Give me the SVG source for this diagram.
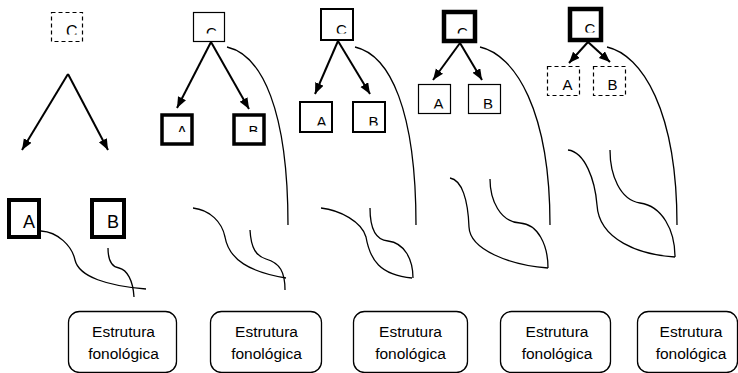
<svg xmlns="http://www.w3.org/2000/svg" width="738" height="373" viewBox="0 0 738 373">
<style>
.bx{fill:#fff;stroke:#000}
.thin{stroke-width:1.2}
.med{stroke-width:2}
.thick{stroke-width:4}
.dash{stroke-width:1.2;stroke-dasharray:4 3}
.lbl{font-family:"Liberation Sans",Arial,sans-serif;font-size:15px;fill:#000}
.big{font-size:18px}
.cv{fill:none;stroke:#000;stroke-width:1.3}
.ar{fill:none;stroke:#000;stroke-width:2}
.fs{fill:#fff;stroke:#000;stroke-width:1.3}
.ft{font-family:"Liberation Sans",Arial,sans-serif;font-size:15.5px;fill:#000;text-anchor:middle}
</style>
<defs>
<marker id="ah" markerUnits="userSpaceOnUse" markerWidth="12" markerHeight="10" refX="11" refY="4.5" orient="auto">
<path d="M0,0 L11,4.5 L0,9 z" fill="#000"/>
</marker>
<clipPath id="k1c"><rect x="50" y="10" width="35" height="24.5"/></clipPath>
<clipPath id="k2c"><rect x="193" y="10" width="35" height="23.5"/></clipPath>
<clipPath id="k2a"><rect x="160" y="110" width="110" height="22"/></clipPath>
<clipPath id="k3c"><rect x="320" y="5" width="35" height="28.5"/></clipPath>
<clipPath id="k3a"><rect x="299" y="100" width="90" height="25.5"/></clipPath>
<clipPath id="k4c"><rect x="442" y="8" width="35" height="25.5"/></clipPath>
<clipPath id="k4a"><rect x="418" y="84" width="90" height="24.5"/></clipPath>
<clipPath id="k5c"><rect x="568" y="5" width="35" height="27.5"/></clipPath>
<clipPath id="k5a"><rect x="547" y="66" width="90" height="24"/></clipPath>
</defs>

<g id="p1-C"><rect class="bx dash" x="51.5" y="12.5" width="31" height="29"/><text class="lbl" x="66" y="36.5" style="font-size:16px" clip-path="url(#k1c)">C</text></g>
<g id="p1-A"><rect class="bx thick" x="9" y="200" width="30" height="37"/><text class="lbl big" x="23" y="228">A</text></g>
<g id="p1-B"><rect class="bx thick" x="92" y="200" width="32" height="37"/><text class="lbl big" x="107" y="228">B</text></g>

<g id="p2-C"><rect class="bx thin" x="193.5" y="12.5" width="31" height="29"/><text class="lbl" x="206" y="38" clip-path="url(#k2c)">C</text></g>
<g id="p2-A"><rect class="bx thick" x="162" y="115" width="30" height="29" style="stroke-width:3.5"/><text class="lbl" x="177" y="135.5" clip-path="url(#k2a)">A</text></g>
<g id="p2-B"><rect class="bx thick" x="234" y="115" width="30" height="29" style="stroke-width:3.5"/><text class="lbl" x="248.5" y="135.5" clip-path="url(#k2a)">B</text></g>

<g id="p3-C"><rect class="bx med" x="321" y="9" width="32" height="31"/><text class="lbl" x="336" y="35" clip-path="url(#k3c)">C</text></g>
<g id="p3-A"><rect class="bx med" x="300" y="102" width="32" height="30"/><text class="lbl" x="316.5" y="127" clip-path="url(#k3a)">A</text></g>
<g id="p3-B"><rect class="bx med" x="353" y="102" width="32" height="30"/><text class="lbl" x="368.5" y="127" clip-path="url(#k3a)">B</text></g>

<g id="p4-C"><rect class="bx" x="444" y="12" width="31" height="29" style="stroke-width:4.5"/><text class="lbl" x="457" y="38" clip-path="url(#k4c)">C</text></g>
<g id="p4-A"><rect class="bx thin" x="418.5" y="84.5" width="32" height="29"/><text class="lbl" x="433.5" y="109" clip-path="url(#k4a)">A</text></g>
<g id="p4-B"><rect class="bx thin" x="468.5" y="84.5" width="32" height="29"/><text class="lbl" x="483" y="109" clip-path="url(#k4a)">B</text></g>

<g id="p5-C"><rect class="bx" x="570" y="9" width="31" height="31" style="stroke-width:4.5"/><text class="lbl" x="584.5" y="34" clip-path="url(#k5c)">C</text></g>
<g id="p5-A"><rect class="bx dash" x="547.5" y="66.5" width="32" height="29"/><text class="lbl" x="562.5" y="90" clip-path="url(#k5a)">A</text></g>
<g id="p5-B"><rect class="bx dash" x="593.5" y="66.5" width="32" height="29"/><text class="lbl" x="607.5" y="90" clip-path="url(#k5a)">B</text></g>

<g id="fon1"><rect class="fs" x="68.5" y="311.5" width="108" height="61" rx="11"/><text class="ft" x="123.5" y="337">Estrutura</text><text class="ft" x="123.5" y="359">fonológica</text></g>
<g id="fon2"><rect class="fs" x="210.5" y="311.5" width="111" height="61" rx="11"/><text class="ft" x="266.5" y="337">Estrutura</text><text class="ft" x="266.5" y="359">fonológica</text></g>
<g id="fon3"><rect class="fs" x="353.5" y="311.5" width="114" height="61" rx="11"/><text class="ft" x="410.5" y="337">Estrutura</text><text class="ft" x="410.5" y="359">fonológica</text></g>
<g id="fon4"><rect class="fs" x="500.5" y="311.5" width="110" height="61" rx="11"/><text class="ft" x="557" y="337">Estrutura</text><text class="ft" x="557" y="359">fonológica</text></g>
<g id="fon5"><rect class="fs" x="637.5" y="311.5" width="100" height="61" rx="11"/><text class="ft" x="691" y="337">Estrutura</text><text class="ft" x="691" y="359">fonológica</text></g>

<g id="connectors">
<path class="ar" d="M68,74 L22,150" marker-end="url(#ah)"/>
<path class="ar" d="M68,74 L108,150" marker-end="url(#ah)"/>
<path class="ar" d="M211,42 L177,108" marker-end="url(#ah)"/>
<path class="ar" d="M211,42 L249,109" marker-end="url(#ah)"/>
<path class="ar" d="M338,41 L315,94" marker-end="url(#ah)"/>
<path class="ar" d="M338,41 L370,94" marker-end="url(#ah)"/>
<path class="ar" d="M460,43 L433,80" marker-end="url(#ah)"/>
<path class="ar" d="M460,43 L482,80" marker-end="url(#ah)"/>
<path class="ar" d="M588,42 L569,63" marker-end="url(#ah)"/>
<path class="ar" d="M588,42 L610,62" marker-end="url(#ah)"/>

<path class="cv" d="M41,231 C58,232 72,246 75,260 C79,277 108,286 146,289"/>
<path class="cv" d="M108,248 C108,260 112,267 119,268 C127,270 133,280 134,297"/>

<path class="cv" d="M227,47 C262,55 288,110 288,225"/>
<path class="cv" d="M193,208 C210,210 222,222 225,237 C229,260 250,272 286,278"/>
<path class="cv" d="M250,230 C251,248 256,256 266,259 C280,263 285,272 285,290"/>

<path class="cv" d="M355,47 C390,55 416,110 416,225"/>
<path class="cv" d="M321,208 C340,210 362,222 366,237 C370,260 380,275 412,278"/>
<path class="cv" d="M370,208 C370,228 375,240 388,241 C405,243 413,260 413,278"/>

<path class="cv" d="M480,47 C515,55 550,110 550,225"/>
<path class="cv" d="M450,178 C462,180 468,200 469,227 C470,250 510,265 548,268"/>
<path class="cv" d="M490,179 C490,200 500,222 520,223 C538,224 548,245 548,268"/>

<path class="cv" d="M607,47 C642,55 677,110 677,225"/>
<path class="cv" d="M568,150 C585,152 595,180 597,205 C599,240 640,255 675,257"/>
<path class="cv" d="M610,150 C610,175 620,200 640,203 C662,206 675,230 675,257"/>
</g>
</svg>
